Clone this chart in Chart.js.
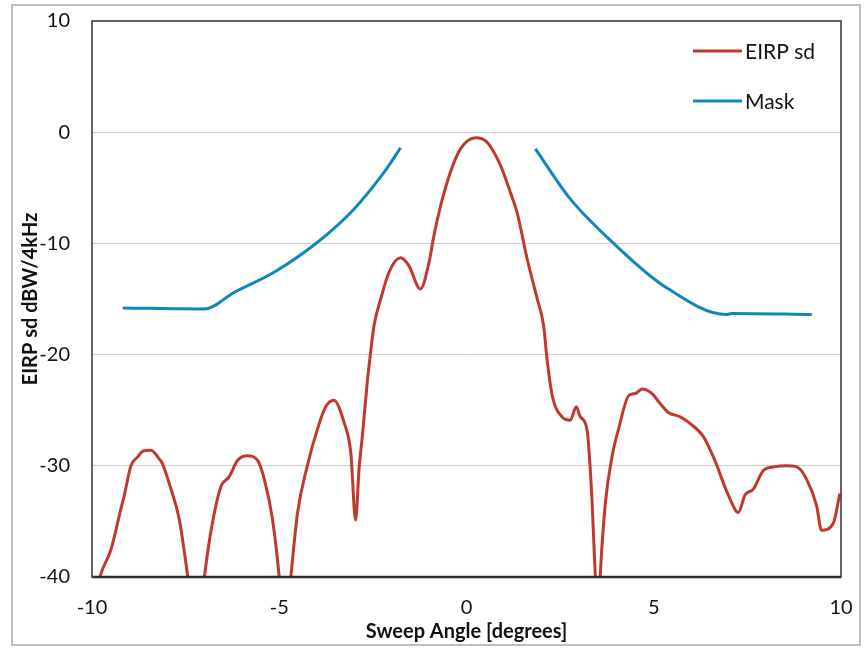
<!DOCTYPE html>
<html>
<head>
<meta charset="utf-8">
<title>EIRP sd vs Sweep Angle</title>
<script src="https://cdn.jsdelivr.net/npm/chart.js@4/dist/chart.umd.min.js"></script>
<style>
  html, body { margin: 0; padding: 0; background: #fff; }
</style>
</head>
<body>
<canvas id="chart" width="868" height="650"></canvas>
<script>
// values (degrees, dBW/4kHz)
const eirpAngles = [
  -9.85, -9.78, -9.49, -9.23, -9.14, -8.96, -8.78, -8.65, -8.43, -8.2, -8.12, -7.89, -7.67, -7.45, -7.22,
  -7.0, -6.83, -6.56, -6.34, -6.11, -5.85, -5.58, -5.4, -5.18, -5.0, -4.85,
  -4.69, -4.51, -4.25, -3.98, -3.76, -3.54, -3.27, -3.09, -2.96, -2.87, -2.78, -2.65, -2.56,
  -2.47, -2.29, -2.07, -1.76, -1.54, -1.23, -1.0, -0.87, -0.69, -0.43, -0.16, 0.24, 0.55,
  0.91, 1.17, 1.35, 1.62, 1.89, 2.06, 2.15, 2.29, 2.55, 2.77, 2.93, 3.04, 3.22, 3.35, 3.44, 3.5,
  3.57, 3.71, 3.89, 4.06, 4.33, 4.51, 4.69, 4.95, 5.17, 5.39, 5.71, 5.93, 6.33, 6.51, 6.69, 6.82,
  7.0, 7.26, 7.44, 7.66, 7.93, 8.19, 8.55, 8.82, 9.08, 9.35, 9.48, 9.79, 9.97
];
const eirpValues = [
  -41, -39.9, -37.5, -33.9, -32.7, -30.0, -29.2, -28.7, -28.6, -29.4, -29.8, -32.1, -34.8, -39.8, -46,
  -40, -36.0, -31.9, -31.0, -29.5, -29.1, -29.5, -31.2, -34.8, -40, -46,
  -40, -34.2, -30.0, -26.7, -24.7, -24.1, -26.1, -28.8, -34.9, -30.3, -27.3, -22.5, -19.8,
  -17.4, -15.0, -12.6, -11.3, -12.0, -14.1, -11.7, -9.3, -6.6, -3.6, -1.5, -0.5, -0.9,
  -3.0, -5.4, -7.2, -11.4, -15.0, -17.4, -20.4, -23.7, -25.6, -25.9, -24.7, -25.6, -26.8, -33, -40, -46,
  -40, -33.3, -29.1, -26.7, -23.7, -23.5, -23.1, -23.5, -24.4, -25.2, -25.6, -26.1, -27.4, -28.6, -30.0, -31.2,
  -32.7, -34.2, -32.6, -32.1, -30.4, -30.1, -30.0, -30.1, -31.2, -33.6, -35.8, -35.2, -32.5
];

// mask has a gap around boresight (null breaks the line)
const maskAngles = [-9.18, -7.0, -6.2, -5.14, -3.98, -3.0, -2.2, -1.76, 0, 1.84, 2.77, 3.93, 5.26, 6.95, 7.08, 9.22];
const maskValues = [-15.8, -15.9, -14.4, -12.6, -9.9, -6.9, -3.6, -1.4, null, -1.5, -6.0, -10.0, -13.8, -16.4, -16.3, -16.4];

const xTicks = [-10, -5, 0, 5, 10];
const yTicks = [-40, -30, -20, -10, 0, 10];

const toPoints = (xs, ys) => xs.map((x, i) => ({ x: x, y: ys[i] }));

const FONT = 'Lato, "Open Sans", sans-serif';

// grey outer frame like the Excel chart area, dark plot border on top
const chartFrame = {
  id: 'chartFrame',
  beforeDraw(chart) {
    const ctx = chart.ctx;
    ctx.save();
    ctx.fillStyle = '#fff';
    ctx.fillRect(0, 0, chart.width, chart.height);
    ctx.strokeStyle = '#a8a8a8';
    ctx.lineWidth = 1.5;
    ctx.strokeRect(12, 5, 848, 640);
    ctx.restore();
  },
  afterDraw(chart) {
    const a = chart.chartArea;
    const ctx = chart.ctx;
    ctx.save();
    ctx.strokeStyle = '#333';
    ctx.lineWidth = 1.5;
    ctx.strokeRect(a.left, a.top, a.right - a.left, a.bottom - a.top);
    ctx.lineWidth = 2.5;
    ctx.beginPath();
    ctx.moveTo(a.left, a.bottom);
    ctx.lineTo(a.right, a.bottom);
    ctx.stroke();
    ctx.restore();
  }
};

// legend sits inside the plot, top right, no box
const insideLegend = {
  id: 'insideLegend',
  afterDraw(chart) {
    const ctx = chart.ctx;
    const a = chart.chartArea;
    ctx.save();
    ctx.font = '21px ' + FONT;
    ctx.textBaseline = 'middle';
    chart.data.datasets.forEach((ds, i) => {
      const y = a.top + 30 + i * 50;
      const x0 = a.right - 148;
      ctx.strokeStyle = ds.borderColor;
      ctx.lineWidth = 3;
      ctx.beginPath();
      ctx.moveTo(x0, y);
      ctx.lineTo(x0 + 49, y);
      ctx.stroke();
      ctx.fillStyle = '#111';
      ctx.fillText(ds.label, x0 + 52, y + 1);
    });
    ctx.restore();
  }
};

new Chart(document.getElementById('chart'), {
  type: 'line',
  data: {
    datasets: [
      {
        label: 'EIRP sd',
        data: toPoints(eirpAngles, eirpValues),
        borderColor: '#c0392e',
        borderWidth: 3,
        pointRadius: 0,
        cubicInterpolationMode: 'monotone',
        fill: false
      },
      {
        label: 'Mask',
        data: toPoints(maskAngles, maskValues),
        borderColor: '#1186bd',
        borderWidth: 3,
        pointRadius: 0,
        cubicInterpolationMode: 'monotone',
        spanGaps: false,
        fill: false
      }
    ]
  },
  options: {
    responsive: false,
    animation: false,
    layout: { padding: { top: 21, right: 27, left: 0, bottom: 0 } },
    plugins: {
      legend: { display: false },
      tooltip: { enabled: false }
    },
    scales: {
      x: {
        type: 'linear',
        min: -10,
        max: 10,
        afterBuildTicks: (scale) => { scale.ticks = xTicks.map(v => ({ value: v })); },
        afterFit: (scale) => {
          scale.height = 73;
          scale.paddingLeft = 0;
          scale.paddingRight = 0;
        },
        grid: { display: false, drawTicks: false },
        border: { display: false },
        ticks: { padding: 19, color: '#111', font: { family: FONT, size: 20 } },
        title: {
          display: true,
          text: 'Sweep Angle [degrees]',
          color: '#111',
          font: { family: FONT, size: 20, weight: 'bold' },
          padding: { top: 0, bottom: 6 }
        }
      },
      y: {
        min: -40,
        max: 10,
        afterBuildTicks: (scale) => { scale.ticks = yTicks.map(v => ({ value: v })); },
        afterFit: (scale) => {
          scale.width = 92;
          scale.paddingTop = 0;
          scale.paddingBottom = 0;
        },
        grid: {
          drawTicks: false,
          color: (c) => (c.tick && (c.tick.value === -40 || c.tick.value === 10)) ? 'rgba(0,0,0,0)' : '#cfcfcf',
          lineWidth: 1
        },
        border: { display: false },
        ticks: { padding: 22, color: '#111', font: { family: FONT, size: 20 } },
        title: {
          display: true,
          text: 'EIRP sd dBW/4kHz',
          color: '#111',
          font: { family: FONT, size: 20, weight: 'bold' },
          padding: { top: 19, bottom: 0 }
        }
      }
    }
  },
  plugins: [chartFrame, insideLegend]
});
</script>
</body>
</html>
